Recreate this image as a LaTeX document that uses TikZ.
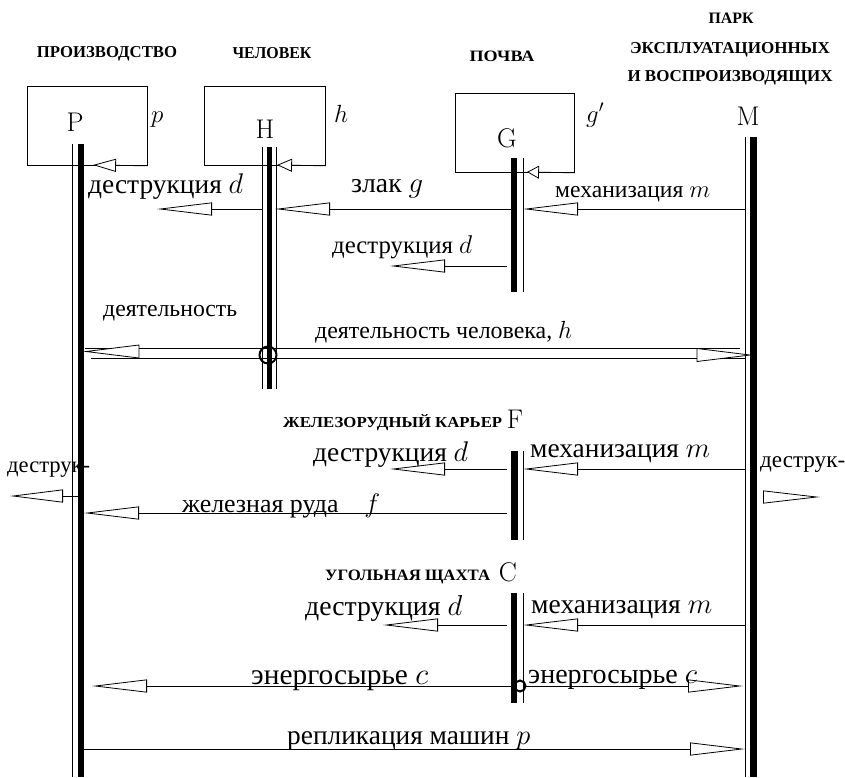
\documentclass[tikz,border=0pt]{standalone}
\usepackage{fontspec}
\newfontfamily\cyr{Liberation Serif}
\usetikzlibrary{arrows.meta}
\newcommand{\fitto}[2]{\resizebox{#1pt}{!}{#2}}
\newcommand{\fitwh}[3]{\resizebox{#1pt}{#2pt}{#3}}
\tikzset{
  box/.style={draw, line width=0.8pt, inner sep=0pt, anchor=north west},
  conn/.style={line width=0.8pt},
  arr/.style={conn, -{Triangle[length=55pt,width=13pt,fill=white]}},
  sarr/.style={conn, -{Triangle[length=#1,width=13pt,fill=white]}},
  tri/.style={line width=0.8pt, fill=white, line join=miter},
  thickL/.style={line width=6.5pt},
  thinL/.style={line width=0.8pt},
  big/.style={anchor=base, inner sep=0pt, font=\fontsize{27}{27}\selectfont},
  ital/.style={anchor=base west, inner sep=0pt, font=\fontsize{26}{26}\selectfont},
  hdr/.style={anchor=base, inner sep=0pt, font=\cyr\bfseries\fontsize{16}{16}\selectfont},
  hdrw/.style={anchor=base west, inner sep=0pt, font=\cyr\bfseries\fontsize{16}{16}\selectfont},
  lab/.style={anchor=base west, inner sep=0pt, font=\cyr\fontsize{20}{20}\selectfont},
  ring/.style={draw, circle, line width=2pt, inner sep=0pt},
}
\begin{document}
\begin{tikzpicture}[x=1pt,y=-1pt]
\useasboundingbox (0,0) rectangle (845,777);

% headers
\node[hdr] (hP) at (107,57) {\fitwh{140}{11}{ПРОИЗВОДСТВО}};
\node[hdr] (hH) at (272,58) {\fitwh{79}{11}{ЧЕЛОВЕК}};
\node[hdr] (hG) at (502,61) {\fitwh{65}{10.5}{ПОЧВА}};
\node[hdr] (hM1) at (731,23) {\fitwh{45}{10.5}{ПАРК}};
\node[hdr] (hM2) at (730,53) {\fitwh{200}{11}{ЭКСПЛУАТАЦИОННЫХ}};
\node[hdr] (hM3) at (730,81) {\fitwh{205}{11}{И ВОСПРОИЗВОДЯЩИХ}};
\node[hdrw] (hF) at (283,427) {\fitwh{219}{13}{ЖЕЛЕЗОРУДНЫЙ КАРЬЕР}};
\node[hdrw] (hC) at (325,580) {\fitwh{165}{10.5}{УГОЛЬНАЯ ЩАХТА}};

% boxes
\node[box, minimum width=120pt, minimum height=79pt] (Pbox) at (27,86) {};
\node[box, minimum width=121pt, minimum height=79pt] (Hbox) at (204,86) {};
\node[box, minimum width=119pt, minimum height=79pt] (Gbox) at (455,93) {};

% big letters
\node[big] (Pn) at (75,131) {P};
\node[big] (Hn) at (265,138) {H};
\node[big] (Gn) at (507,147) {G};
\node[big] (Mn) at (748,125) {M};
\node[big] (Fn) at (515,428) {F};
\node[big] (Cn) at (508,581) {C};
\node[ital] (pi) at (151,122) {$p$};
\node[ital] (hi) at (334,122) {$h$};
\node[ital] (gi) at (586,122) {$g'$};

% coordinates
\coordinate (Pt1) at (72,144);  \coordinate (Pb1) at (72,777);
\coordinate (Pt2) at (81,144);  \coordinate (Pb2) at (81,777);
\coordinate (Ht1) at (262,147); \coordinate (Hb1) at (262,389);
\coordinate (Ht2) at (269.5,147); \coordinate (Hb2) at (269.5,389);
\coordinate (Ht3) at (276,147); \coordinate (Hb3) at (276,389);
\coordinate (Gt1) at (514,158); \coordinate (Gb1) at (514,292);
\coordinate (Gt2) at (523,158); \coordinate (Gb2) at (523,292);
\coordinate (Ft1) at (514.5,451); \coordinate (Fb1) at (514.5,540);
\coordinate (Ft2) at (523,451); \coordinate (Fb2) at (523,540);
\coordinate (Ct1) at (514,593); \coordinate (Cb1) at (514,703);
\coordinate (Ct2) at (523,593); \coordinate (Cb2) at (523,703);
\coordinate (Mt1) at (745,137); \coordinate (Mb1) at (745,777);
\coordinate (Mt2) at (753.5,137); \coordinate (Mb2) at (753.5,777);

% box arrows
\coordinate (pa) at (93,165);  \draw[sarr=23pt] (Pbox.south east) -- (pa);
\coordinate (ha) at (277,165); \draw[sarr=15pt] (Hbox.south east) -- (ha);
\coordinate (ga) at (527,172); \draw[sarr=12pt] (Gbox.south east) -- (ga);

% top row y=209
\coordinate (h209) at (262,209); \coordinate (d1) at (157,209);
\coordinate (g209) at (511,209); \coordinate (z1) at (275,209);
\coordinate (m209) at (745,209); \coordinate (m1) at (523,209);
\draw[arr] (h209) -- (d1);
\draw[arr] (g209) -- (z1);
\draw[arr] (m209) -- (m1);
% G destruction
\coordinate (g266) at (507,266); \coordinate (d2) at (390,266);
\draw[arr] (g266) -- (d2);

% double line activity
\coordinate (dA1) at (740,348); \coordinate (dA2) at (85,348);
\coordinate (dB1) at (91,358);  \coordinate (dB2) at (745,358);
\draw[conn] (dA1) -- (dA2);
\draw[conn] (dB1) -- (dB2);
\draw[tri] (86,351.5) -- (139,345) -- (139,358) -- cycle;
\draw[tri] (750,355) -- (697,348.5) -- (697,361.5) -- cycle;

% F rows
\coordinate (f469) at (507,469); \coordinate (d3) at (390,469);
\coordinate (m469) at (745,469); \coordinate (m3) at (523,469);
\draw[arr] (f469) -- (d3);
\draw[arr] (m469) -- (m3);
\coordinate (f513) at (507,513); \coordinate (ore) at (84,513);
\draw[arr] (f513) -- (ore);
\coordinate (p496) at (78,496); \coordinate (dl) at (10,496);
\draw[sarr=53pt] (p496) -- (dl);
\coordinate (m497) at (763,497); \coordinate (dr) at (820,497);
\draw[sarr=57pt] (m497) -- (dr);

% C rows
\coordinate (c625) at (507,625); \coordinate (d4) at (383,625);
\coordinate (m625) at (745,625); \coordinate (m4) at (523,625);
\draw[arr] (c625) -- (d4);
\draw[arr] (m625) -- (m4);
\coordinate (c686) at (514,686); \coordinate (e1) at (92,686);
\coordinate (c686r) at (523,686); \coordinate (e2) at (743,686);
\draw[arr] (c686) -- (e1);
\draw[arr] (c686r) -- (e2);
\coordinate (p749) at (84,749); \coordinate (r1) at (745,749);
\draw[arr] (p749) -- (r1);

% lifelines
\draw[thinL] (Pt1) -- (Pb1);  \draw[thickL] (Pt2) -- (Pb2);
\draw[thinL] (Ht1) -- (Hb1);  \draw[line width=5pt] (Ht2) -- (Hb2); \draw[thinL] (Ht3) -- (Hb3);
\draw[thickL] (Gt1) -- (Gb1); \draw[thinL] (Gt2) -- (Gb2);
\draw[thickL] (Ft1) -- (Fb1); \draw[thinL] (Ft2) -- (Fb2);
\draw[thickL] (Ct1) -- (Cb1); \draw[thinL] (Ct2) -- (Cb2);
\draw[thinL] (Mt1) -- (Mb1);  \draw[thickL] (Mt2) -- (Mb2);

% rings
\node[ring, minimum size=17pt] (ringH) at (268,355) {};
\node[ring, minimum size=11pt] (ringC) at (520,686) {};

% labels
\node[lab] (l1) at (88,193) {\fitto{155}{деструкция $d$}};
\node[lab] (l2) at (351,192) {\fitto{72}{злак $g$}};
\node[lab] (l3) at (555,197) {\fitto{155}{механизация $m$}};
\node[lab] (l4) at (332,253) {\fitto{140}{деструкция $d$}};
\node[lab] (l5) at (103,316) {\fitto{134}{деятельность}};
\node[lab] (l6) at (315,338) {\fitto{257}{деятельность человека, $h$}};
\node[lab] (l7) at (313,461) {\fitto{155}{деструкция $d$}};
\node[lab] (l8) at (530,457) {\fitto{180}{механизация $m$}};
\node[lab] (l9) at (182,512) {\fitto{198}{железная руда\quad $f$}};
\node[lab] (l10) at (7,472) {\fitto{83}{деструк-}};
\node[lab] (l11) at (760,467) {\fitto{85}{деструк-}};
\node[lab] (l12) at (305,615) {\fitto{157}{деструкция $d$}};
\node[lab] (l13) at (531,613) {\fitto{181}{механизация $m$}};
\node[lab] (l14) at (251,684) {\fitto{177}{энергосырье $c$}};
\node[lab] (l15) at (528,683) {\fitto{169}{энергосырье $c$}};
\node[lab] (l16) at (287,744) {\fitto{243}{репликация машин $p$}};
\end{tikzpicture}
\end{document}
